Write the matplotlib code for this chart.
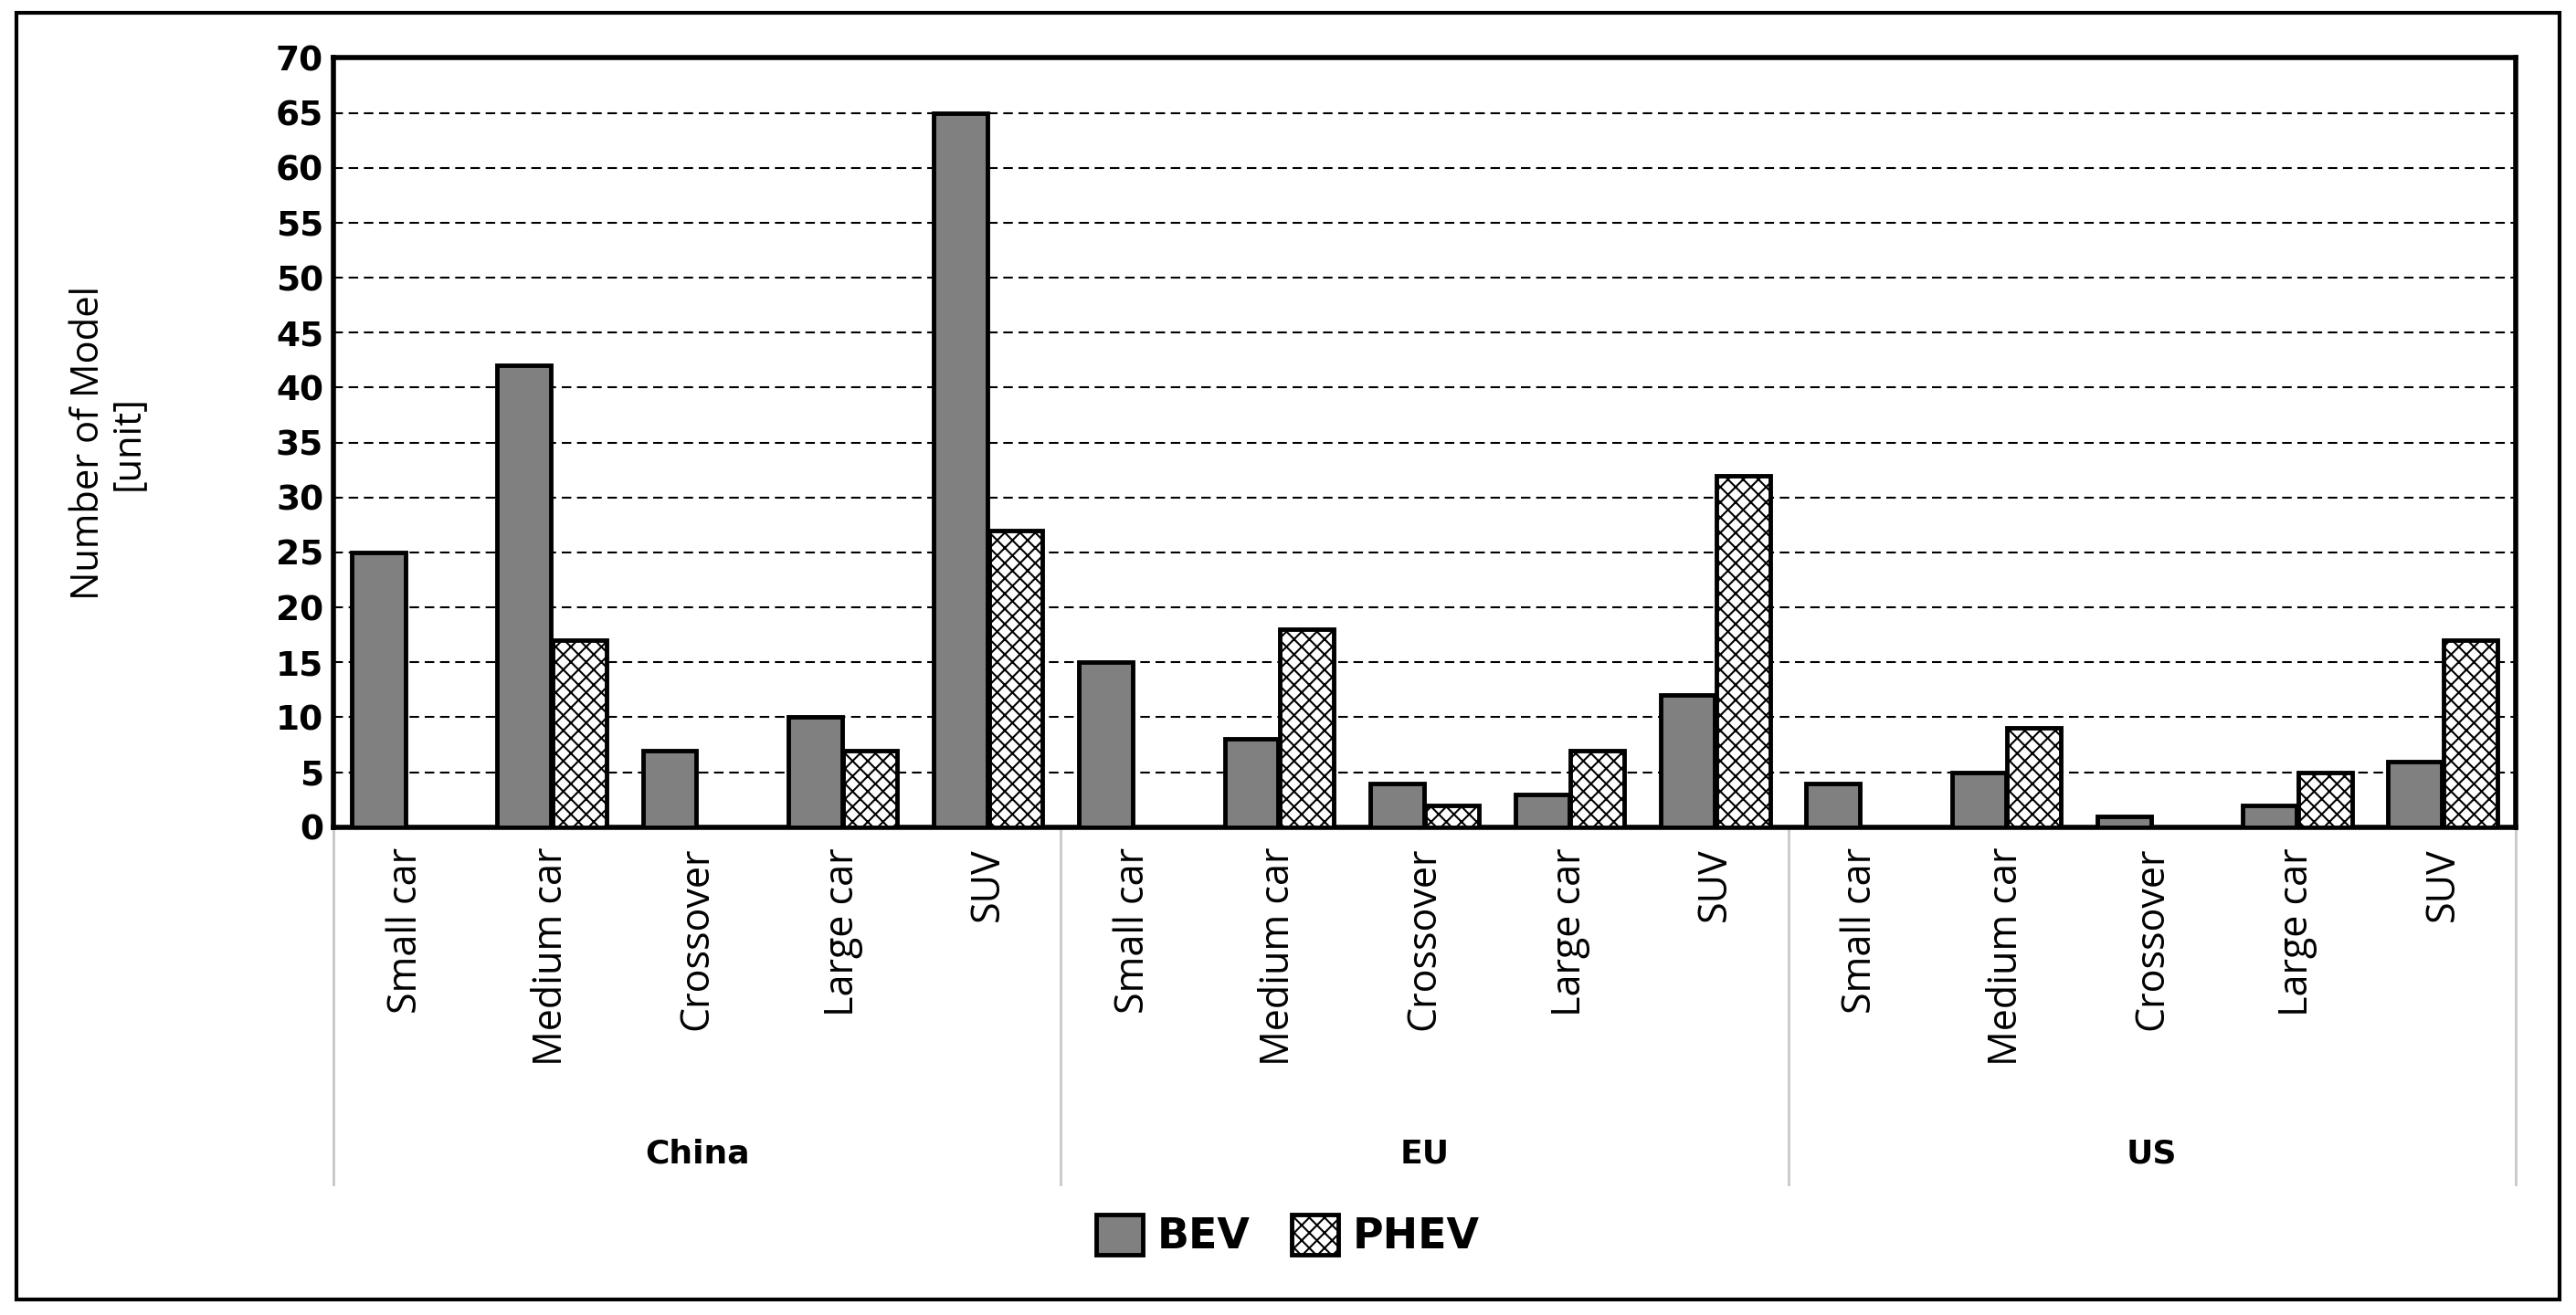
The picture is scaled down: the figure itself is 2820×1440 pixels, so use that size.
import matplotlib
matplotlib.use("Agg")
import matplotlib.pyplot as plt
import numpy as np
from matplotlib.patches import Rectangle, Patch
from matplotlib.lines import Line2D

regions = ["China", "EU", "US"]
categories = ["Small car", "Medium car", "Crossover", "Large car", "SUV"]
bev = [25, 42, 7, 10, 65, 15, 8, 4, 3, 12, 4, 5, 1, 2, 6]
phev = [0, 17, 0, 7, 27, 0, 18, 2, 7, 32, 0, 9, 0, 5, 17]
yticks = list(range(0, 75, 5))

plt.rcParams['font.family'] = ['Open Sans', 'DejaVu Sans']
plt.rcParams['hatch.linewidth'] = 1.5
fig = plt.figure(figsize=(28.2, 14.4), dpi=100)
ax = fig.add_axes([0.1295, 0.371, 0.847, 0.585])

x = np.arange(len(bev))
w = 0.37
ax.bar(x - 0.19, bev, w, color="#808080", edgecolor="black", linewidth=3.5, zorder=3, label="BEV")
ax.bar(x + 0.19, phev, w, color="white", edgecolor="black", linewidth=3.5, hatch="xx", zorder=3, label="PHEV")

ax.set_xlim(-0.5, 14.5)
ax.set_ylim(0, 70)
ax.set_yticks(yticks)
ax.set_yticklabels([str(t) for t in yticks], fontsize=27, fontweight="bold", family="DejaVu Sans")
ax.yaxis.grid(True, linestyle=(0, (5, 3)), color="black", linewidth=1.5, zorder=0)
ax.tick_params(axis="y", length=0, pad=8)
for s in ax.spines.values():
    s.set_linewidth(4)
    s.set_color("black")

ax.set_xticks(x)
ax.set_xticklabels(categories * 3, rotation=90, fontsize=31, va="top")
ax.tick_params(axis="x", length=0, pad=16)
for i, r in enumerate(regions):
    ax.text(i * 5 + 2, -0.425, r, transform=ax.get_xaxis_transform(), ha="center", va="center",
            fontsize=26, fontweight="bold", family="DejaVu Sans")
for xv in [-0.5, 4.5, 9.5, 14.5]:
    ax.add_line(Line2D([xv, xv], [0, -0.465], transform=ax.get_xaxis_transform(),
                       color="#c8c8c8", linewidth=2, clip_on=False))

fig.text(0.042, 0.663, "Number of Model\n[unit]", rotation=90, ha="center", va="center",
         fontsize=30, linespacing=1.05)

handles = [Patch(facecolor="#808080", edgecolor="black", linewidth=3.5),
           Patch(facecolor="white", edgecolor="black", linewidth=3.5, hatch="xx")]
fig.legend(handles, ["BEV", "PHEV"], loc="center", bbox_to_anchor=(0.5, 0.06), ncol=2,
           frameon=False, prop={"size": 33, "weight": "bold", "family": "DejaVu Sans"},
           handlelength=1.1, handleheight=1.1, columnspacing=1.0, handletextpad=0.35)

fig.add_artist(Rectangle((0.0065, 0.012), 0.987, 0.978, transform=fig.transFigure,
                         fill=False, edgecolor="black", linewidth=3))
fig.savefig("out.png", dpi=100)
